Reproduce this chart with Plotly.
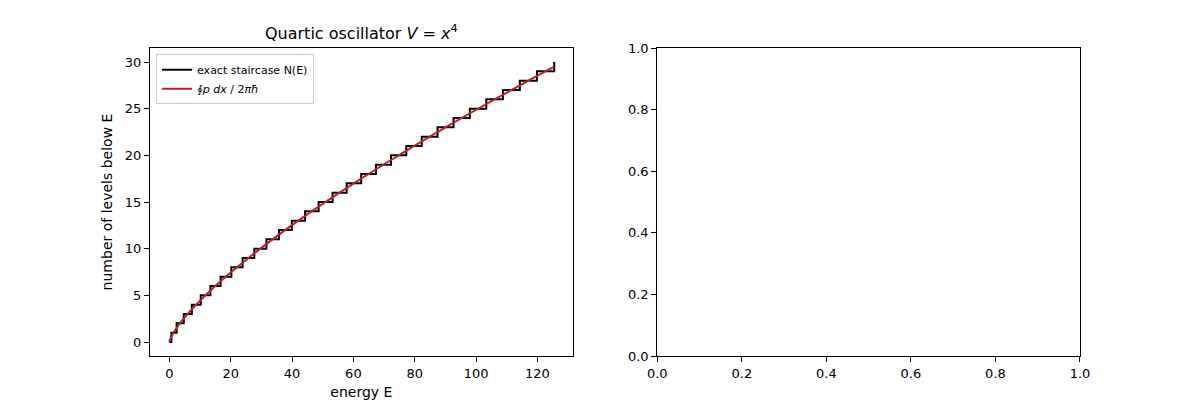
import plotly.graph_objects as go
from plotly.subplots import make_subplots

# Exact energy levels E_n (read from the staircase jumps)
level_energies = [0.67, 2.39, 4.70, 7.34, 10.24, 13.38, 16.71, 20.22, 23.89, 27.71,
                  31.65, 35.73, 39.93, 44.25, 48.67, 53.20, 57.82, 62.54, 67.35, 72.25,
                  77.23, 82.29, 87.43, 92.65, 97.95, 103.31, 108.75, 114.26, 119.83, 125.47]

# Smooth phase-space count (red curve), sampled points
smooth_E = [0, 0.1, 0.25, 0.5, 1, 2, 4, 7, 10, 15, 20, 30, 40, 50, 60, 70, 80, 90, 100, 110, 120, 125.47]
smooth_N = [0, 0.14, 0.28, 0.468, 0.787, 1.323, 2.226, 3.386, 4.425, 5.998, 7.442, 10.087,
            12.517, 14.796, 16.964, 19.043, 21.050, 22.996, 24.884, 26.729, 28.531, 29.504]

x_ticks_left = [0, 20, 40, 60, 80, 100, 120]
y_ticks_left = [0, 5, 10, 15, 20, 25, 30]
unit_ticks = [0.0, 0.2, 0.4, 0.6, 0.8, 1.0]

# staircase: N(E) = number of levels below E
stair_x = [0.0] + level_energies
stair_y = list(range(0, len(level_energies) + 1))

FONT = "DejaVu Sans"

fig = make_subplots(rows=1, cols=2, horizontal_spacing=0.0909)

fig.add_trace(go.Scatter(x=stair_x, y=stair_y, mode="lines", line_shape="hv",
                         line=dict(color="black", width=2),
                         name="exact staircase N(E)"), row=1, col=1)
fig.add_trace(go.Scatter(x=smooth_E, y=smooth_N, mode="lines", line_shape="spline",
                         line=dict(color="#b8222a", width=2),
                         name="∮<i>p dx</i> / 2<i>πħ</i>"), row=1, col=1)
# empty right-hand axes
fig.add_trace(go.Scatter(x=[None], y=[None], mode="lines", showlegend=False,
                         hoverinfo="skip"), row=1, col=2)

axis_common = dict(showline=True, mirror=True, linecolor="black", linewidth=1,
                   ticks="outside", ticklen=5, tickcolor="black", tickwidth=1,
                   showgrid=False, zeroline=False, automargin=False,
                   tickfont=dict(family=FONT, size=13, color="black"))

fig.update_xaxes(**axis_common)
fig.update_yaxes(**axis_common)

fig.update_xaxes(range=[-6.3, 131.5], tickvals=x_ticks_left,
                 title=dict(text="energy E", font=dict(family=FONT, size=14, color="black"), standoff=8),
                 row=1, col=1)
fig.update_yaxes(range=[-1.5, 31.5], tickvals=y_ticks_left,
                 title=dict(text="number of levels below E", font=dict(family=FONT, size=14, color="black"), standoff=8),
                 row=1, col=1)
fig.update_xaxes(range=[0, 1], tickvals=unit_ticks, tickformat=".1f", autorange=False, row=1, col=2)
fig.update_yaxes(range=[0, 1], tickvals=unit_ticks, tickformat=".1f", autorange=False, row=1, col=2)

fig.add_annotation(text="Quartic oscillator <i>V</i> = <i>x</i><sup>4</sup>",
                   xref="x domain", yref="y domain", x=0.5, y=1.0,
                   xanchor="center", yanchor="bottom", yshift=3, showarrow=False,
                   font=dict(family=FONT, size=16, color="black"))

fig.update_layout(
    width=1200, height=400,
    margin=dict(l=150, r=120, t=48, b=44, autoexpand=False),
    paper_bgcolor="white", plot_bgcolor="white",
    showlegend=True,
    legend=dict(x=0.0065, y=0.98, xanchor="left", yanchor="top",
                bgcolor="rgba(255,255,255,0.8)", bordercolor="#cccccc", borderwidth=1,
                font=dict(family=FONT, size=11, color="black"),
                tracegroupgap=0, itemwidth=30),
    font=dict(family=FONT, color="black"),
)

fig.write_html("out.html")
